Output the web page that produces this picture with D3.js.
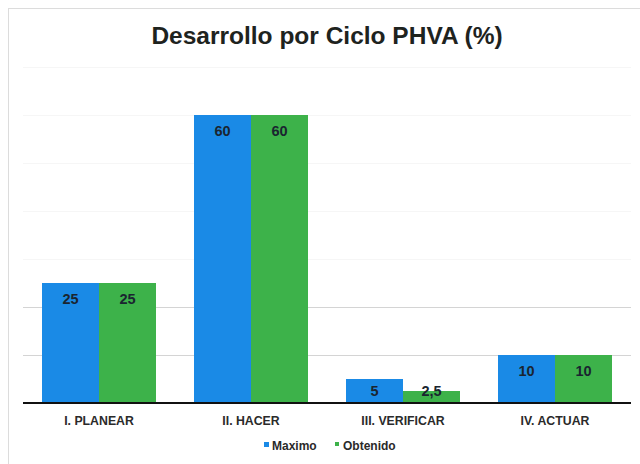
<!DOCTYPE html>
<html><head><meta charset="utf-8">
<script src="https://cdn.jsdelivr.net/npm/d3@7"></script>
<style>body{margin:0;background:#fff;}svg{display:block;font-family:"Liberation Sans",Arial,sans-serif;}</style>
</head><body>
<svg id="c" width="640" height="464"></svg>
<script>
const categories = ["I. PLANEAR", "II. HACER", "III. VERIFICAR", "IV. ACTUAR"];
const maximo = [25, 60, 5, 10];
const obtenido = [25, 60, 2.5, 10];
const seriesNames = ["Maximo", "Obtenido"];
const labelsMax = ["25", "60", "5", "10"];
const labelsObt = ["25", "60", "2,5", "10"];
const yTicks = [0, 10, 20, 30, 40, 50, 60, 70];

const colors = ["#1a8ae6", "#3db24a"];
const svg = d3.select("#c");
const W = 640, H = 464;
const m = {left: 23, right: 9, top: 67, bottom: 61};
const x0 = d3.scaleBand().domain(categories).range([m.left, W - m.right]).paddingInner(0.25).paddingOuter(0.125);
const x1 = d3.scaleBand().domain(seriesNames).range([0, x0.bandwidth()]);
const y = d3.scaleLinear().domain([0, 70]).range([H - m.bottom, m.top]);

// frame
svg.append("rect").attr("x", 8.5).attr("y", 8.5).attr("width", 640).attr("height", 460)
  .attr("fill", "none").attr("stroke", "#dcdcdc");

// gridlines
svg.append("g").selectAll("line").data(yTicks.slice(1)).join("line")
  .attr("x1", m.left).attr("x2", W - m.right)
  .attr("y1", d => y(d) + 0.5).attr("y2", d => y(d) + 0.5)
  .attr("stroke", d => d <= 20 ? "#d4d4d4" : "#f6f6f6").attr("stroke-width", 1);

// title
svg.append("text").attr("x", 327).attr("y", 44).attr("text-anchor", "middle")
  .attr("font-size", 24.5).attr("font-weight", "bold").attr("fill", "#1e231e")
  .text("Desarrollo por Ciclo PHVA (%)");

const data = categories.map((c, i) => ({c, vals: [
  {s: "Maximo", v: maximo[i], l: labelsMax[i]},
  {s: "Obtenido", v: obtenido[i], l: labelsObt[i]}]}));

const g = svg.append("g").selectAll("g").data(data).join("g")
  .attr("transform", d => `translate(${x0(d.c)},0)`);
g.selectAll("rect").data(d => d.vals).join("rect")
  .attr("x", d => x1(d.s)).attr("width", x1.bandwidth())
  .attr("y", d => y(d.v)).attr("height", d => y(0) - y(d.v))
  .attr("fill", (d, i) => colors[i]);
g.selectAll("text").data(d => d.vals).join("text")
  .attr("x", d => x1(d.s) + x1.bandwidth() / 2)
  .attr("y", d => d.v < 8 ? y(0) - 7 : y(d.v) + 21)
  .attr("text-anchor", "middle").attr("font-size", 14.5).attr("font-weight", "bold")
  .attr("fill", "#1a2530").text(d => d.l);

// x axis
const xa = svg.append("g").attr("transform", `translate(0,${y(0)})`)
  .call(d3.axisBottom(x0).tickSize(0).tickPadding(13));
xa.select(".domain").attr("stroke", "#111").attr("stroke-width", 2).attr("d", `M${m.left},0H${W - m.right}`);
xa.selectAll("text").attr("font-size", 12.3).attr("font-weight", "bold").attr("fill", "#2a2a2a")
  .attr("font-family", "Liberation Sans, Arial, sans-serif");

// legend
const leg = svg.append("g").attr("transform", "translate(0,450)");
const legX = [264, 335];
seriesNames.forEach((s, i) => {
  leg.append("rect").attr("x", legX[i]).attr("y", -8).attr("width", i === 0 ? 5 : 4).attr("height", i === 0 ? 5 : 4)
    .attr("fill", colors[i]);
  leg.append("text").attr("x", legX[i] + 8).attr("y", 0).attr("font-size", 12).attr("font-weight", "bold")
    .attr("fill", "#2a2a2a").text(s);
});
</script>
</body></html>
